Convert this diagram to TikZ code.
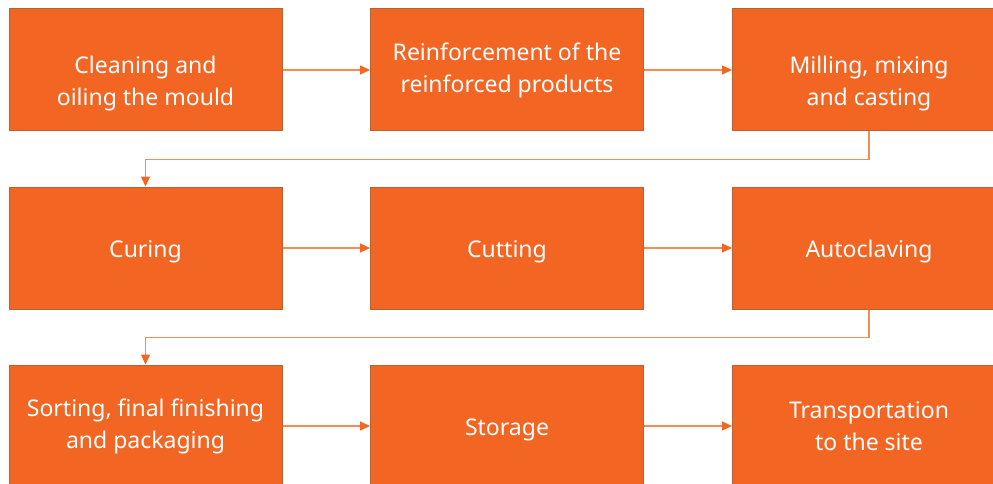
\documentclass[tikz,border=0pt]{standalone}
\usepackage{fontspec}
\setmainfont{Noto Sans}
\usetikzlibrary{arrows.meta}
\definecolor{stepfill}{HTML}{F36523}
\definecolor{stepline}{HTML}{B8632F}
\definecolor{linkline}{HTML}{F58C55}
\begin{document}
\begin{tikzpicture}[x=1pt,y=1pt]
        		\tikzstyle{stepbox}=[rectangle,draw=stepline,line width=1pt,fill=stepfill,text=white,minimum width=273pt,minimum height=122pt,inner sep=0pt,align=center,font=\fontsize{23}{32}\selectfont,execute at begin node={\rule{0pt}{25pt}}]
        		\tikzstyle{twoline}=[execute at begin node={\rule{0pt}{29pt}}]
        		\tikzstyle{link}=[draw=linkline,line width=1.1pt,-{Triangle[length=10pt,width=9pt,color=stepfill]}]
        		\useasboundingbox (0,0) rectangle (993,483);
       			\begin{scope}
        			\node [stepbox] (b1) at (145.5,413) {\rule{0pt}{44pt}Cleaning and\\oiling the mould};
        			\node [stepbox,twoline] (b2) at (507,413) {Reinforcement of the\\reinforced products};
        			\node [stepbox] (b3) at (869,413) {\rule{0pt}{44pt}Milling, mixing\\and casting};
        			\node [stepbox] (b4) at (145.5,235) {Curing};
        			\node [stepbox] (b5) at (507,235) {Cutting};
        			\node [stepbox] (b6) at (869,235) {Autoclaving};
        			\node [stepbox,twoline] (b7) at (145.5,57) {Sorting, final finishing\\and packaging};
        			\node [stepbox] (b8) at (507,57) {Storage};
        			\node [stepbox,twoline] (b9) at (869,57) {Transportation\\to the site};
        			\path[link] (b1) -- (b2);
        			\path[link] (b2) -- (b3);
        			\path[link] (b3.south) -- ++(0,-28) -| (b4.north);
        			\path[link] (b4) -- (b5);
        			\path[link] (b5) -- (b6);
        			\path[link] (b6.south) -- ++(0,-28) -| (b7.north);
        			\path[link] (b7) -- (b8);
        			\path[link] (b8) -- (b9);
        		\end{scope}
      		\end{tikzpicture}
\end{document}
